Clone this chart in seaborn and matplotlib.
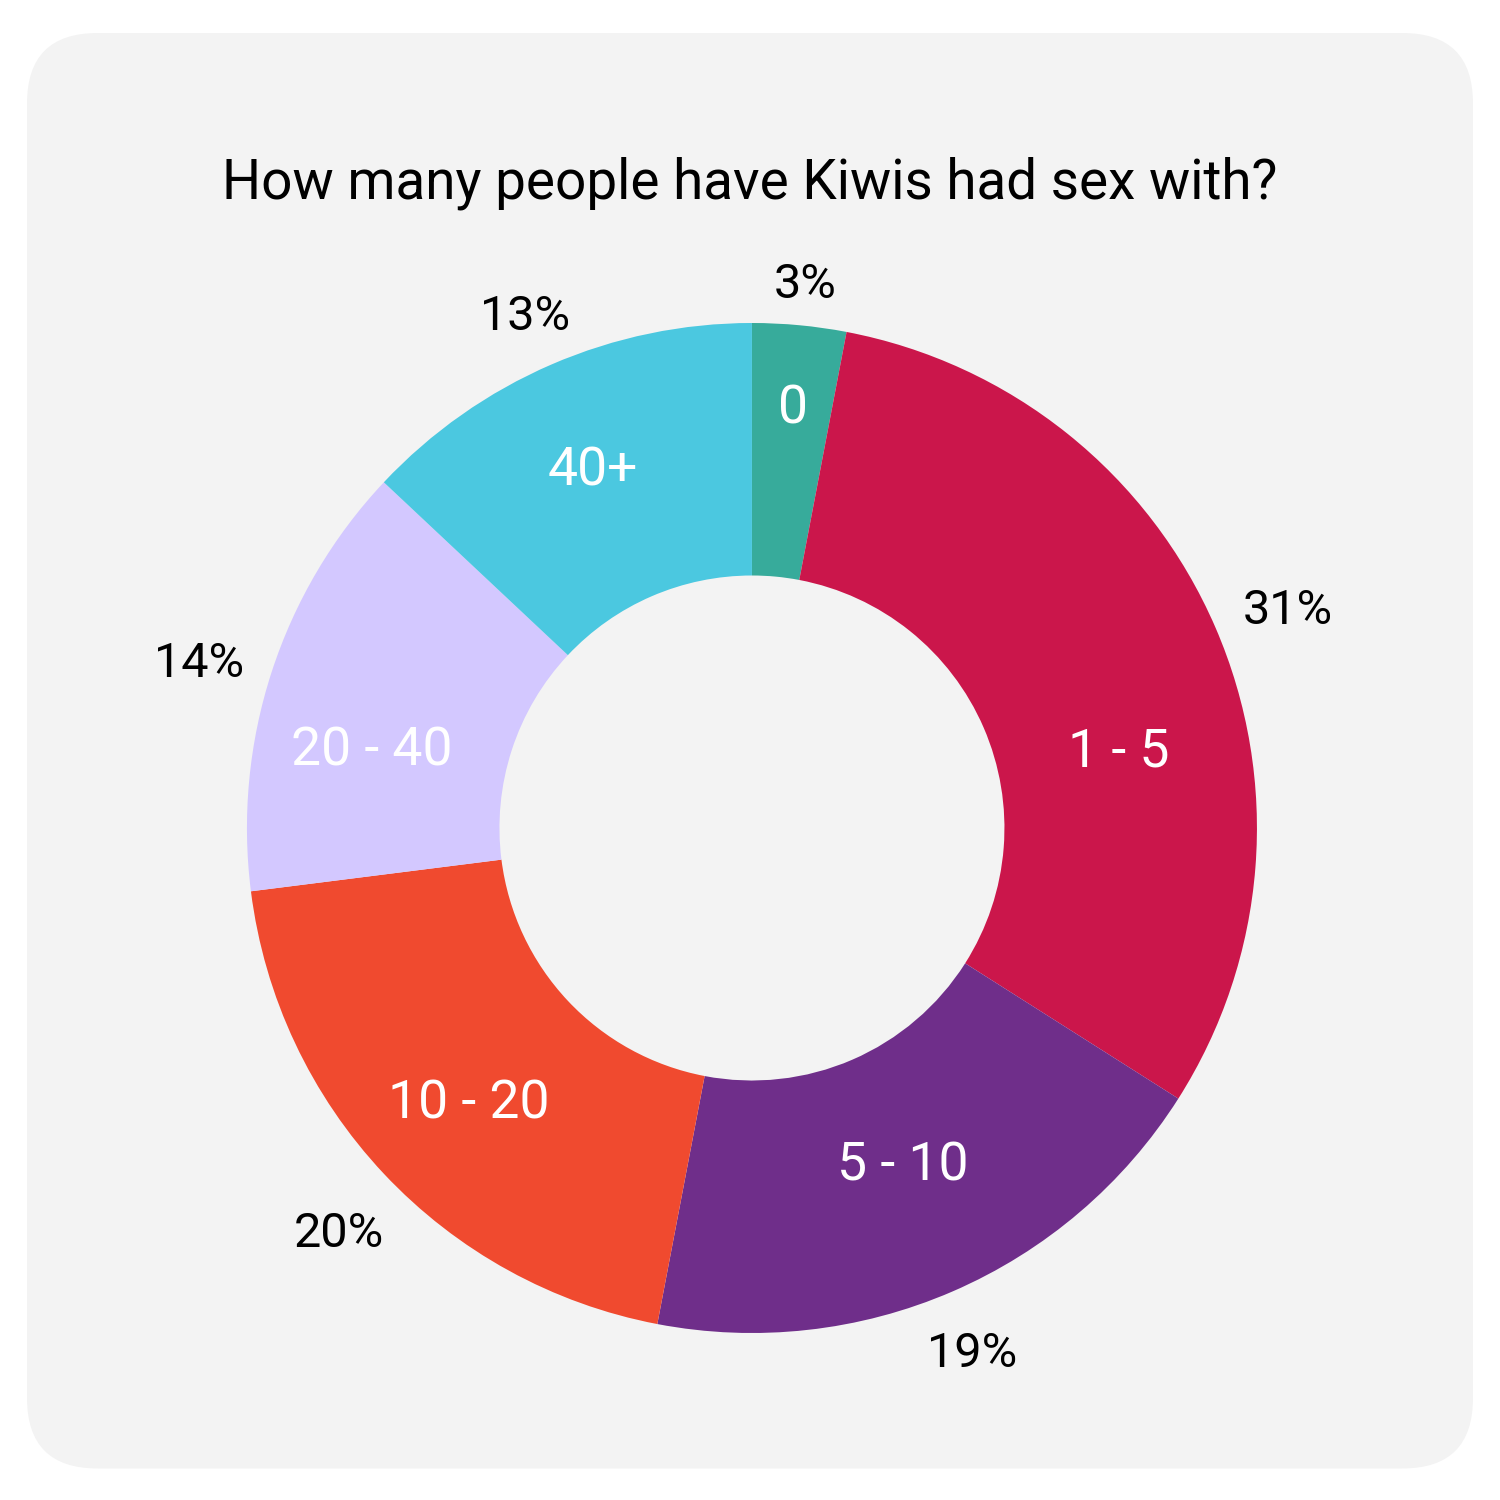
import matplotlib
matplotlib.use("Agg")
import matplotlib.pyplot as plt
from matplotlib.patches import FancyBboxPatch
from matplotlib.transforms import offset_copy
import seaborn as sns

# survey answers, clockwise from the top
categories = ["0", "1 - 5", "5 - 10", "10 - 20", "20 - 40", "40+"]
shares = [3, 31, 19, 20, 14, 13]
colors = ["#37ab9b", "#cb164b", "#6f2e8a", "#f04a2f", "#d3c8ff", "#4bc8e0"]
title = "How many people have Kiwis had sex with?"

# small placement tweaks (pixels) to mimic the original label layout
name_nudge = [(4, 32), (10, -78), (-4, 19), (0, -10), (-10, -43), (-5, 0)]
pct_nudge = [(0, -25), (12, -10), (-6, -2), (3, -15), (-10, -12), (0, -13)]

sns.set_theme(style="white")
plt.rcParams["font.family"] = ["Roboto", "DejaVu Sans"]

fig = plt.figure(figsize=(15, 15), dpi=100)
fig.patch.set_facecolor("white")

# rounded grey card behind everything
card = FancyBboxPatch((0.018 + 0.047, 0.021 + 0.047), 0.964 - 0.094, 0.957 - 0.094,
                      boxstyle="round,pad=0.047", transform=fig.transFigure,
                      facecolor="#f3f3f3", edgecolor="none", zorder=-5)
fig.add_artist(card)

fig.text(0.5, 0.868, title, ha="center", va="baseline", fontsize=39.5,
         color="black", zorder=5)

ax = fig.add_axes([0.1013, 0.048, 0.8, 0.8])
ax.set_facecolor("none")
ax.set_zorder(2)

wedges, texts, autotexts = ax.pie(
    shares, labels=categories, colors=colors, startangle=90, counterclock=False,
    radius=1.01, labeldistance=0.77, pctdistance=1.13,
    autopct=lambda p: f"{p:.0f}%",
    wedgeprops=dict(width=0.505, linewidth=0),
)
for t, (dx, dy) in zip(texts, name_nudge):
    t.set_color("white")
    t.set_fontsize(38.5)
    t.set_ha("center")
    t.set_va("center")
    t.set_transform(offset_copy(ax.transData, fig, x=dx, y=dy, units="dots"))
for t, (dx, dy) in zip(autotexts, pct_nudge):
    t.set_color("black")
    t.set_fontsize(35)
    t.set_transform(offset_copy(ax.transData, fig, x=dx, y=dy, units="dots"))

ax.set_xlim(-1.2, 1.2)
ax.set_ylim(-1.2, 1.2)
ax.set_aspect("equal")
ax.axis("off")

fig.savefig("out.png", dpi=100, facecolor="white")
